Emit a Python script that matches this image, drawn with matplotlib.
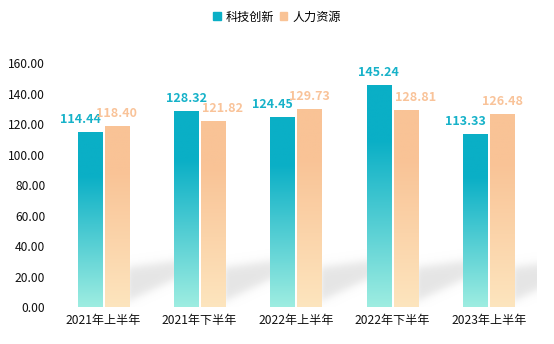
import numpy as np
import matplotlib
matplotlib.use("Agg")
import matplotlib.pyplot as plt
from matplotlib.colors import to_rgb
from matplotlib.patches import Rectangle

plt.rcParams['font.family'] = ['Noto Sans CJK SC', 'DejaVu Sans']

categories = ["2021年上半年", "2021年下半年", "2022年上半年", "2022年下半年", "2023年上半年"]
series_names = ["科技创新", "人力资源"]
tech = [114.44, 128.32, 124.45, 145.24, 113.33]
hr = [118.40, 121.82, 129.73, 128.81, 126.48]
yticks = [0, 20, 40, 60, 80, 100, 120, 140, 160]

teal_top, teal_bot = "#0AAFC6", "#9EEDE1"
peach_top, peach_bot = "#F9C396", "#FDE5BE"
teal_label, peach_label = "#16B2C9", "#F9C399"

W, H, DPI = 554, 344, 100
fig = plt.figure(figsize=(W / DPI, H / DPI), dpi=DPI)
ax = fig.add_axes([55 / W, 1 - 307 / H, (537 - 55) / W, (307 - 63.5) / H])

n = len(categories)
x = np.arange(n)
bw = 0.25
off = 0.14
xlim = (-0.5, n - 0.5)
ylim = (0, 160)


def grad_img(c_top, c_bot, hold=0.25, N=256):
    t = np.linspace(0, 1, N)
    f = np.clip((t - hold) / (1 - hold), 0, 1)
    a, b = np.array(to_rgb(c_top)), np.array(to_rgb(c_bot))
    rgb = a[None, :] * (1 - f[:, None]) + b[None, :] * f[:, None]
    return rgb[:, None, :]


def sig(z):
    return 1 / (1 + np.exp(-z))


# soft diagonal cast shadows
gx = np.linspace(xlim[0], xlim[1], 1000)
gy = np.linspace(ylim[0], ylim[1], 500)
GX, GY = np.meshgrid(gx, gy)
alpha = np.zeros_like(GX)
for i in range(n):
    xs = i + off + bw / 2
    L = 0.47
    t = (GX - xs) / L
    lower = 4 + 14 * t
    upper = 26 + 4 * t
    a = sig((GY - lower) / 1.8) * sig((upper - GY) / 1.8) * sig((GX - xs) / 0.012) \
        * sig((xs + 0.6 - GX) / 0.04)
    alpha = np.maximum(alpha, a)
shadow = np.zeros(GX.shape + (4,))
shadow[..., :3] = 0.72
shadow[..., 3] = alpha * 0.36
ax.imshow(shadow, extent=[xlim[0], xlim[1], ylim[0], ylim[1]], origin="lower",
          aspect="auto", zorder=1, interpolation="bilinear")

tg = grad_img(teal_top, teal_bot)
pg = grad_img(peach_top, peach_bot)
for i in range(n):
    for v, g, dx in ((tech[i], tg, -off), (hr[i], pg, off)):
        ax.imshow(g, extent=[x[i] + dx - bw / 2, x[i] + dx + bw / 2, 0, v],
                  aspect="auto", zorder=2, interpolation="bilinear")

for i in range(n):
    t_shift = -7 if tech[i] < hr[i] else 0
    h_shift = 7 if hr[i] < tech[i] else 0
    ax.annotate(f"{tech[i]:.2f}", (x[i] - off, tech[i]), xytext=(t_shift, 5),
                textcoords="offset points", ha="center", va="bottom",
                color=teal_label, fontsize=9, fontweight="bold", zorder=5)
    ax.annotate(f"{hr[i]:.2f}", (x[i] + off, hr[i]), xytext=(h_shift, 5),
                textcoords="offset points", ha="center", va="bottom",
                color=peach_label, fontsize=9, fontweight="bold", zorder=5)

ax.set_xlim(*xlim)
ax.set_ylim(*ylim)
ax.set_xticks(x)
ax.set_xticklabels(categories, fontsize=8.7, color="#111111")
ax.set_yticks(yticks)
ax.set_yticklabels([f"{v:.2f}" for v in yticks], fontsize=8.7, color="#111111")
ax.tick_params(length=0, pad=7)
ax.tick_params(axis="x", pad=5)
for s in ax.spines.values():
    s.set_visible(False)

handles = [Rectangle((0, 0), 1, 1, color=teal_top), Rectangle((0, 0), 1, 1, color=peach_top)]
fig.legend(handles, series_names, loc="center", bbox_to_anchor=(0.5, 1 - 17 / H),
           ncol=2, frameon=False, fontsize=8.7, handlelength=0.6, handleheight=0.6,
           handletextpad=0.4, columnspacing=0.5)

fig.savefig("out.png", dpi=DPI)
